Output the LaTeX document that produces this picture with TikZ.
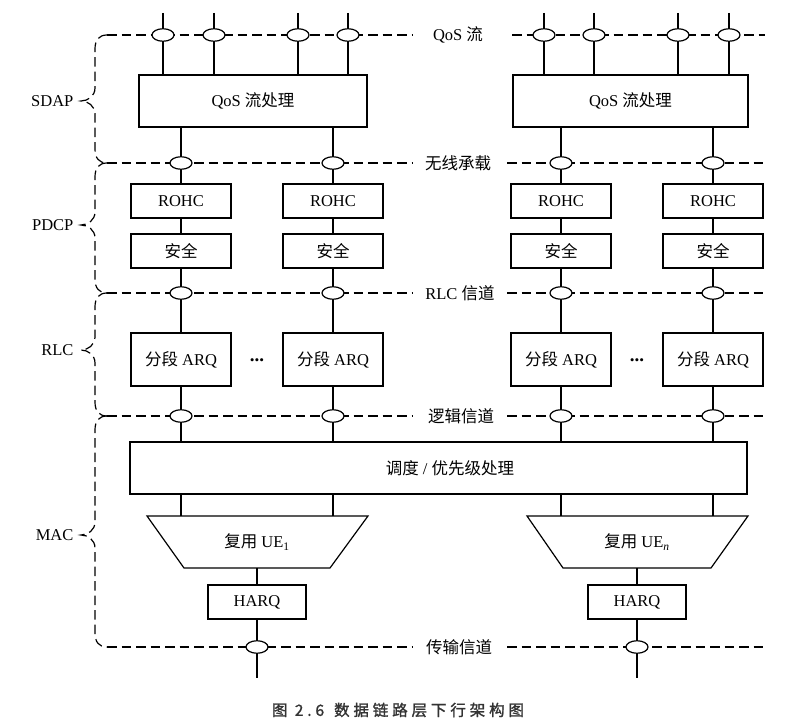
\documentclass[tikz,border=0pt]{standalone}
\usepackage{fontspec}
\setmainfont{Liberation Serif}
\newfontfamily\cjk{Noto Sans CJK SC}
\newfontfamily\capfont[FakeBold=1.5,LetterSpace=25]{Noto Sans CJK SC}
\usetikzlibrary{shapes.geometric}
\newcommand\zh[1]{{\cjk #1}}
\begin{document}
\begin{tikzpicture}[x=1pt,y=-1pt,line width=1.2pt,
  every node/.style={font=\fontsize{16.5}{19}\selectfont},
  box/.style={draw, fill=white, inner sep=0pt},
  port/.style={draw, ellipse, fill=white, minimum width=22pt, minimum height=12.5pt, inner sep=0pt},
  dline/.style={dash pattern=on 9.5pt off 5pt},
  lab/.style={inner sep=0pt, minimum width=94pt, minimum height=14pt},
  side/.style={anchor=east, inner sep=0pt}]
\useasboundingbox (0,0) rectangle (812,727);

% layer labels on the dashed lines
\node[lab] (lq) at (458,35) {QoS \zh{流}};
\node[lab] (lr) at (458,163) {\zh{无线承载}};
\node[lab] (lc) at (460,293) {RLC \zh{信道}};
\node[lab] (ll) at (461,416) {\zh{逻辑信道}};
\node[lab] (lt) at (459,647) {\zh{传输信道}};

\draw[dline] (107,35) -- (413,35);  \draw[dline] (512,35) -- (765,35);
\foreach \y in {163,293,416,647}{
  \draw[dline] (107,\y) -- (413,\y);
  \draw[dline] (507,\y) -- (765,\y);
}

% braces
\foreach \a/\t/\b in {35/101/163,163/225/293,293/350/416,416/535/647}{
  \draw[dline] (107,\a) .. controls (99,\a) and (95,\a+5) .. (95,\a+14)
    -- (95,\t-13) .. controls (95,\t-5) and (88,\t) .. (81,\t)
    .. controls (88,\t) and (95,\t+5) .. (95,\t+13)
    -- (95,\b-14) .. controls (95,\b-5) and (99,\b) .. (107,\b);
}
\node[side] (sdap) at (74,101) {SDAP};
\node[side] (pdcp) at (74,225) {PDCP};
\node[side] (rlc) at (74,350) {RLC};
\node[side] (mac) at (74,535) {MAC};

% ports (ellipses)
\foreach \i/\x in {1/163,2/214,3/298,4/348,5/544,6/594,7/678,8/729}{
  \node[port] (q\i) at (\x,35) {};
  \coordinate (t\i) at (\x,13);
}
\foreach \i/\x in {1/181,2/333,3/561,4/713}{
  \node[port] (r\i) at (\x,163) {};
  \node[port] (c\i) at (\x,293) {};
  \node[port] (l\i) at (\x,416) {};
}
\node[port] (tr1) at (257,647) {};
\node[port] (tr2) at (637,647) {};
\coordinate (b1) at (257,678);
\coordinate (b2) at (637,678);

% boxes
\node[box, minimum width=228pt, minimum height=52pt] (qosL) at (253,101) {QoS \zh{流处理}};
\node[box, minimum width=235pt, minimum height=52pt] (qosR) at (630.5,101) {QoS \zh{流处理}};
\foreach \i/\x in {1/181,2/333,3/561,4/713}{
  \node[box, minimum width=100pt, minimum height=34pt] (rohc\i) at (\x,201) {ROHC};
  \node[box, minimum width=100pt, minimum height=34pt] (sec\i) at (\x,251) {\zh{安全}};
  \node[box, minimum width=100pt, minimum height=53pt] (arq\i) at (\x,359.5) {\zh{分段} ARQ};
}
\node[font=\fontsize{19}{20}\selectfont\bfseries] (dots1) at (257,360) {...};
\node[font=\fontsize{19}{20}\selectfont\bfseries] (dots2) at (637,360) {...};

\node[box, minimum width=617pt, minimum height=52pt] (sched) at (438.5,468) {};
\node (schedt) at (450,468) {\zh{调度} / \zh{优先级处理}};

% multiplexers
\coordinate (m1a) at (147,516); \coordinate (m1b) at (368,516);
\coordinate (m1c) at (330,568); \coordinate (m1d) at (184,568);
\coordinate (m2a) at (527,516); \coordinate (m2b) at (748,516);
\coordinate (m2c) at (711,568); \coordinate (m2d) at (563,568);
\draw (m1a) -- (m1b) -- (m1c) -- (m1d) -- cycle;
\draw (m2a) -- (m2b) -- (m2c) -- (m2d) -- cycle;
\node (mux1) at (257,542) {\zh{复用} UE\textsubscript{1}};
\node (mux2) at (637,542) {\zh{复用} UE\textsubscript{\itshape n}};
\coordinate (m1bot) at (257,568);
\coordinate (m2bot) at (637,568);

\node[box, minimum width=98pt, minimum height=34pt] (harq1) at (257,602) {HARQ};
\node[box, minimum width=98pt, minimum height=34pt] (harq2) at (637,602) {HARQ};

% connectors
\foreach \i in {1,2,3,4}{
  \draw (t\i) -- (q\i);
  \draw (q\i) -- (q\i |- qosL.north);
}
\foreach \i in {5,6,7,8}{
  \draw (t\i) -- (q\i);
  \draw (q\i) -- (q\i |- qosR.north);
}
\draw (r1 |- qosL.south) -- (r1);
\draw (r2 |- qosL.south) -- (r2);
\draw (r3 |- qosR.south) -- (r3);
\draw (r4 |- qosR.south) -- (r4);
\foreach \i in {1,2,3,4}{
  \draw (r\i) -- (rohc\i);
  \draw (rohc\i) -- (sec\i);
  \draw (sec\i) -- (c\i);
  \draw (c\i) -- (arq\i);
  \draw (arq\i) -- (l\i);
  \draw (l\i) -- (l\i |- sched.north);
}
\draw (l1 |- sched.south) -- (l1 |- m1a);
\draw (l2 |- sched.south) -- (l2 |- m1a);
\draw (l3 |- sched.south) -- (l3 |- m2a);
\draw (l4 |- sched.south) -- (l4 |- m2a);
\draw (m1bot) -- (harq1);
\draw (m2bot) -- (harq2);
\draw (harq1) -- (tr1);
\draw (harq2) -- (tr2);
\draw (tr1) -- (b1);
\draw (tr2) -- (b2);

% caption
\node[font=\capfont\fontsize{15.5}{18}\selectfont, text=black!80] (cap) at (398,710) {图 2.6\hspace{10pt}数据链路层下行架构图};
\end{tikzpicture}
\end{document}
